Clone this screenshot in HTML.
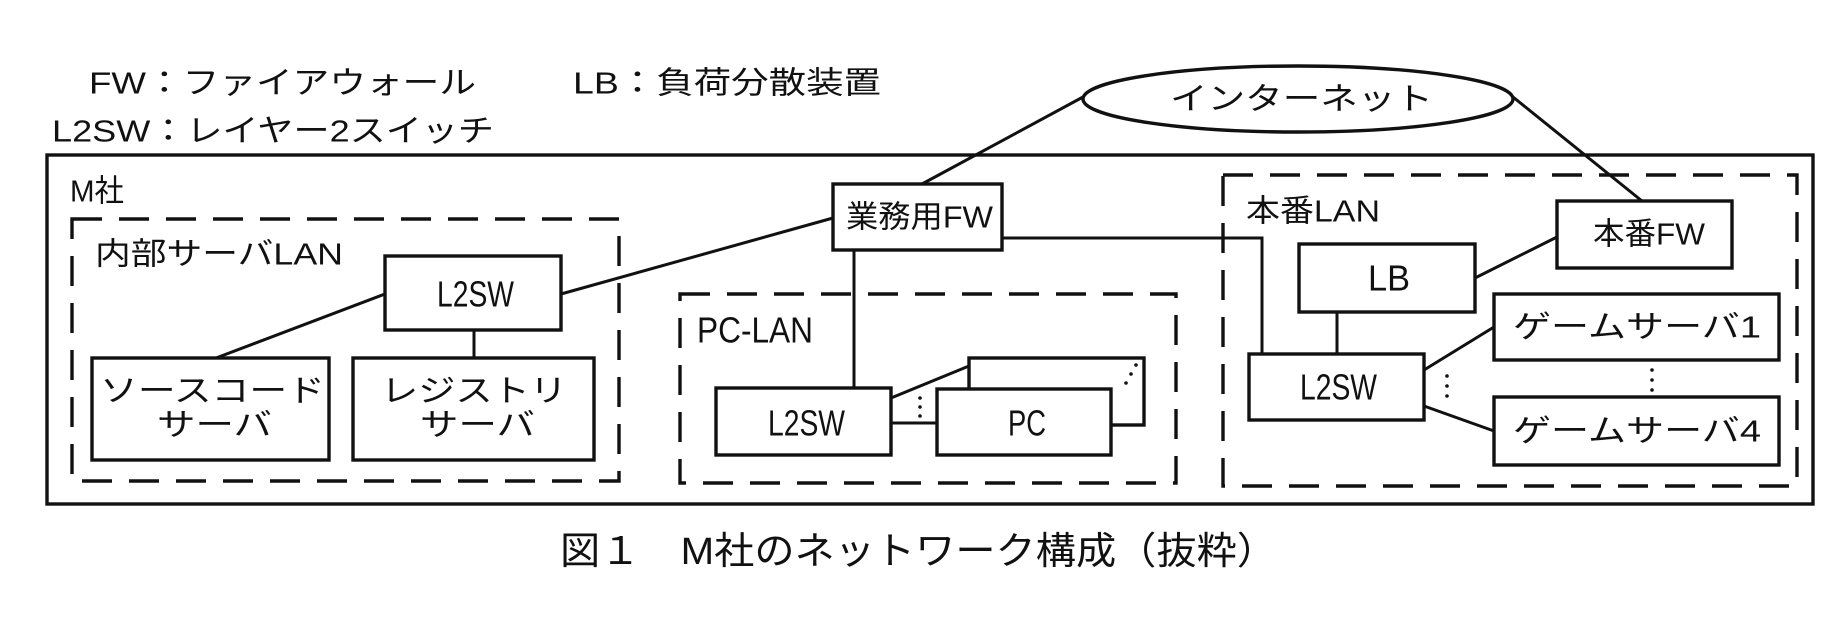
<!DOCTYPE html>
<html><head><meta charset="utf-8"><style>
html,body{margin:0;padding:0;background:#fff;}
svg{display:block;}
text{font-family:"Liberation Sans","Noto Sans CJK JP",sans-serif;font-size:31px;fill:#111;dominant-baseline:central;}
text.l{font-size:36px;}
</style></head><body>
<svg width="1844" height="620" viewBox="0 0 1844 620" xmlns="http://www.w3.org/2000/svg">
<g fill="none" stroke="#111" stroke-width="3.4">
<rect x="47" y="155" width="1766" height="349"/>
<g stroke-dasharray="30,17">
<rect x="72" y="219" width="547" height="262"/>
<rect x="680" y="294" width="496" height="189"/>
<rect x="1223" y="175" width="574" height="311"/>
</g>
<ellipse cx="1298" cy="99" rx="215" ry="33"/>
<rect x="385" y="256" width="176" height="74"/>
<rect x="92" y="358" width="237" height="102"/>
<rect x="353" y="358" width="241" height="102"/>
<rect x="833" y="184" width="169" height="66" fill="#fff"/>
<rect x="969" y="358" width="175" height="67"/>
<rect x="937" y="389" width="174" height="66" fill="#fff"/>
<rect x="716" y="388" width="175" height="67"/>
<rect x="1557" y="201" width="175" height="67"/>
<rect x="1299" y="244" width="176" height="68"/>
<rect x="1249" y="354" width="175" height="66"/>
<rect x="1494" y="294" width="285" height="66"/>
<rect x="1494" y="397" width="285" height="68"/>
</g>
<g fill="none" stroke="#111" stroke-width="3">
<line x1="385" y1="294" x2="216" y2="358"/>
<line x1="474" y1="330" x2="474" y2="358"/>
<line x1="561" y1="294" x2="833" y2="218"/>
<line x1="922" y1="184" x2="1083" y2="97"/>
<line x1="854" y1="250" x2="854" y2="388"/>
<line x1="891" y1="398" x2="969" y2="366"/>
<line x1="891" y1="423" x2="937" y2="423"/>
<polyline points="1002,238 1262,238 1262,354"/>
<line x1="1513" y1="97" x2="1642" y2="201"/>
<line x1="1475" y1="278" x2="1557" y2="237"/>
<line x1="1337" y1="312" x2="1337" y2="354"/>
<line x1="1424" y1="370" x2="1494" y2="327"/>
<line x1="1424" y1="406" x2="1494" y2="431"/>
</g>
<g fill="#111">
<circle cx="920" cy="398" r="1.8"/><circle cx="920" cy="407" r="1.8"/><circle cx="920" cy="416" r="1.8"/>
<circle cx="1126" cy="383" r="1.8"/><circle cx="1131" cy="374" r="1.8"/><circle cx="1136" cy="365" r="1.8"/>
<circle cx="1447" cy="376" r="1.8"/><circle cx="1447" cy="386" r="1.8"/><circle cx="1447" cy="396" r="1.8"/>
<circle cx="1652" cy="370" r="1.8"/><circle cx="1652" cy="380" r="1.8"/><circle cx="1652" cy="390" r="1.8"/>
</g>
<text x="89" y="83" textLength="387" lengthAdjust="spacingAndGlyphs">FW：ファイアウォール</text>
<text x="573" y="83" textLength="308" lengthAdjust="spacingAndGlyphs">LB：負荷分散装置</text>
<text x="52" y="131" textLength="442" lengthAdjust="spacingAndGlyphs">L2SW：レイヤー2スイッチ</text>
<text x="70" y="191" textLength="54" lengthAdjust="spacingAndGlyphs">M社</text>
<text x="95" y="254" textLength="248" lengthAdjust="spacingAndGlyphs">内部サーバLAN</text>
<text class="l" x="697" y="330" textLength="116" lengthAdjust="spacingAndGlyphs">PC-LAN</text>
<text x="1246" y="211" textLength="134" lengthAdjust="spacingAndGlyphs">本番LAN</text>
<text x="1170" y="99" textLength="263" lengthAdjust="spacingAndGlyphs">インターネット</text>
<text x="846" y="217" textLength="147" lengthAdjust="spacingAndGlyphs">業務用FW</text>
<text x="1593" y="234" textLength="112" lengthAdjust="spacingAndGlyphs">本番FW</text>
<text class="l" x="1368" y="278" textLength="42" lengthAdjust="spacingAndGlyphs">LB</text>
<text class="l" x="437" y="294" textLength="77" lengthAdjust="spacingAndGlyphs">L2SW</text>
<text x="100" y="391" textLength="225" lengthAdjust="spacingAndGlyphs">ソースコード</text>
<text x="157" y="425" textLength="115" lengthAdjust="spacingAndGlyphs">サーバ</text>
<text x="381" y="391" textLength="186" lengthAdjust="spacingAndGlyphs">レジストリ</text>
<text x="420" y="425" textLength="115" lengthAdjust="spacingAndGlyphs">サーバ</text>
<text class="l" x="768" y="423" textLength="77" lengthAdjust="spacingAndGlyphs">L2SW</text>
<text class="l" x="1008" y="423" textLength="38" lengthAdjust="spacingAndGlyphs">PC</text>
<text class="l" x="1300" y="387" textLength="77" lengthAdjust="spacingAndGlyphs">L2SW</text>
<text x="1513" y="327" textLength="248" lengthAdjust="spacingAndGlyphs">ゲームサーバ1</text>
<text x="1513" y="431" textLength="248" lengthAdjust="spacingAndGlyphs">ゲームサーバ4</text>
<text x="560" y="552" style="font-size:38px" textLength="717" lengthAdjust="spacingAndGlyphs">図１　M社のネットワーク構成（抜粋）</text>
</svg>
</body></html>
